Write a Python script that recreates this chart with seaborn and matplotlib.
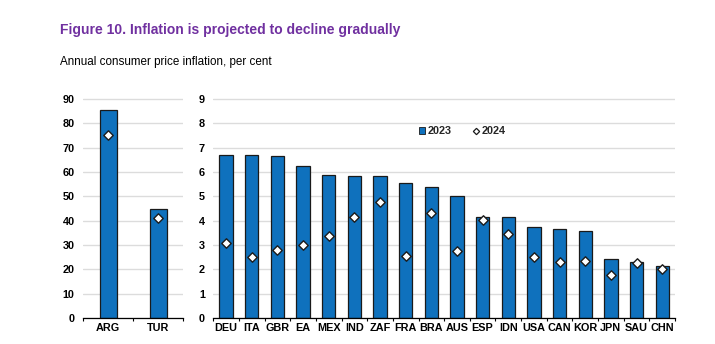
import matplotlib
matplotlib.use("Agg")
import matplotlib.pyplot as plt
import seaborn as sns
import pandas as pd
from matplotlib.lines import Line2D
from matplotlib.patches import Patch
from matplotlib.ticker import FixedLocator

# High-inflation economies (left panel, 0-90 scale)
high_countries = ["ARG", "TUR"]
high_2023 = [85.3, 44.9]
high_2024 = [75.2, 41.3]

# Other economies (right panel, 0-9 scale)
countries = ["DEU", "ITA", "GBR", "EA", "MEX", "IND", "ZAF", "FRA", "BRA",
             "AUS", "ESP", "IDN", "USA", "CAN", "KOR", "JPN", "SAU", "CHN"]
infl_2023 = [6.71, 6.68, 6.67, 6.23, 5.88, 5.84, 5.84, 5.53, 5.38,
             5.01, 4.17, 4.14, 3.72, 3.65, 3.59, 2.44, 2.30, 2.15]
infl_2024 = [3.10, 2.52, 2.81, 2.99, 3.36, 4.16, 4.75, 2.54, 4.31,
             2.76, 4.03, 3.46, 2.52, 2.29, 2.35, 1.76, 2.25, 2.02]

left_ticks = [0, 10, 20, 30, 40, 50, 60, 70, 80, 90]
right_ticks = [0, 1, 2, 3, 4, 5, 6, 7, 8, 9]

BAR_BLUE = "#0f71bd"
EDGE = "#1a1a1a"
GRID = "#dcdcdc"
TITLE_PURPLE = "#7030a0"

sns.set_theme(style="white")
plt.rcParams["font.family"] = ["Liberation Sans", "DejaVu Sans"]

df_high = pd.DataFrame({"country": high_countries, "y2023": high_2023, "y2024": high_2024})
df_rest = pd.DataFrame({"country": countries, "y2023": infl_2023, "y2024": infl_2024})

W, H = 715, 344
fig = plt.figure(figsize=(W / 100, H / 100), dpi=100)
ax1 = fig.add_axes([83 / W, 26 / H, 100 / W, 219.7 / H])
ax2 = fig.add_axes([213.3 / W, 26 / H, 461.7 / W, 219.7 / H])


def draw_panel(ax, df, ticks, width, top):
    sns.barplot(data=df, x="country", y="y2023", ax=ax, color=BAR_BLUE,
                saturation=1, width=width, edgecolor=EDGE, linewidth=0.9,
                zorder=2)
    sns.stripplot(data=df, x="country", y="y2024", ax=ax, jitter=False,
                  marker="D", size=4.8, color="white", edgecolor=EDGE,
                  linewidth=1.0, zorder=3)
    n = len(df)
    ax.set_xlim(-0.5, n - 0.5)
    ax.set_ylim(0, top)
    ax.set_yticks(ticks)
    ax.set_yticklabels([str(t) for t in ticks])
    ax.yaxis.grid(True, color=GRID, linewidth=1.0)
    ax.xaxis.grid(False)
    ax.set_axisbelow(True)
    for side in ("top", "right", "left"):
        ax.spines[side].set_visible(False)
    ax.spines["bottom"].set_color("black")
    ax.spines["bottom"].set_linewidth(0.9)
    ax.set_xlabel("")
    ax.set_ylabel("")
    ax.xaxis.set_minor_locator(FixedLocator([i - 0.5 for i in range(n + 1)]))
    ax.tick_params(axis="x", which="major", length=0, pad=3.5, labelsize=7.8)
    ax.tick_params(axis="x", which="minor", length=2.5, width=0.8,
                   color="black", direction="out", bottom=True)
    ax.tick_params(axis="y", length=0, pad=6, labelsize=7.8)
    for lab in ax.get_xticklabels() + ax.get_yticklabels():
        lab.set_fontweight("bold")
        lab.set_color("black")


draw_panel(ax1, df_high, left_ticks, 0.34, 90.3)
draw_panel(ax2, df_rest, right_ticks, 0.52, 9.03)

handles = [
    Patch(facecolor=BAR_BLUE, edgecolor=EDGE, linewidth=0.6, label="2023"),
    Line2D([], [], marker="D", linestyle="none", markerfacecolor="white",
           markeredgecolor=EDGE, markeredgewidth=0.9, markersize=3.2,
           label="2024"),
]
fig.legend(handles=handles, ncol=2, frameon=False, loc="center left",
           bbox_to_anchor=(418.5 / W, 1 - 131.5 / H), handlelength=0.6,
           handleheight=0.6, handletextpad=0.2, columnspacing=2.0,
           borderaxespad=0, borderpad=0,
           prop={"weight": "bold", "size": 7.8})

fig.text(60 / W, 1 - 30 / H, "Figure 10. Inflation is projected to decline gradually",
         color=TITLE_PURPLE, fontsize=10, fontweight="bold", va="center", ha="left")
fig.text(60 / W, 1 - 62 / H, "Annual consumer price inflation, per cent",
         color="black", fontsize=8.4, va="center", ha="left")

fig.savefig("out.png", dpi=100, facecolor="white")
